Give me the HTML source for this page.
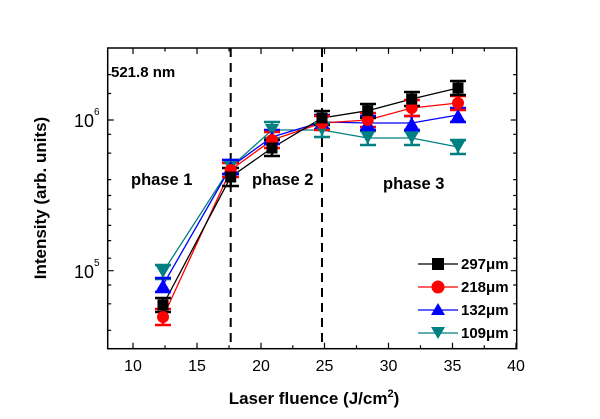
<!DOCTYPE html>
<html><head><meta charset="utf-8"><style>
html,body{margin:0;padding:0;background:#fff;}
svg{display:block;font-family:"Liberation Sans",Arial,sans-serif;}
</style></head><body>
<svg width="600" height="419" viewBox="0 0 600 419" xmlns="http://www.w3.org/2000/svg">
<rect width="600" height="419" fill="#fff"/>
<g stroke="#000" stroke-width="1.5" fill="none">
<rect x="107.7" y="48" width="409" height="300.7"/>
</g>
<g stroke="#000" stroke-width="1.2">
<path d="M133 348.7v-6M197 348.7v-6M261 348.7v-6M324.5 348.7v-6M388.5 348.7v-6M452.5 348.7v-6M516 348.7v-6
M133 48v6M197 48v6M261 48v6M324.5 48v6M388.5 48v6M452.5 48v6"/>
<path d="M165 348.7v-3.5M229 348.7v-3.5M292.8 348.7v-3.5M356.5 348.7v-3.5M420.5 348.7v-3.5M484.3 348.7v-3.5
M165 48v3.5M229 48v3.5M292.8 48v3.5M356.5 48v3.5M420.5 48v3.5M484.3 48v3.5"/>
<path d="M107.7 120h6M107.7 270.7h6M516.7 120h-6M516.7 270.7h-6"/>
<path d="M107.7 330.3h3.5M107.7 303.8h3.5M107.7 285h3.5M107.7 74.6h3.5M107.7 93.5h3.5
M107.7 179.6h3.5M107.7 153.1h3.5M107.7 134.3h3.5M107.7 225.4h3.5M107.7 195.5h3.5M107.7 209.1h3.5M107.7 240.6h3.5M107.7 258.2h3.5
M516.7 330.3h-3.5M516.7 303.8h-3.5M516.7 285h-3.5M516.7 74.6h-3.5M516.7 93.5h-3.5
M516.7 179.6h-3.5M516.7 153.1h-3.5M516.7 134.3h-3.5M516.7 225.4h-3.5M516.7 195.5h-3.5M516.7 209.1h-3.5M516.7 240.6h-3.5M516.7 258.2h-3.5"/>
</g>
<g stroke="#000" stroke-width="2" stroke-dasharray="9,6">
<line x1="230.7" y1="48" x2="230.7" y2="348.7"/>
<line x1="322" y1="48" x2="322" y2="348.7"/>
</g>
<g font-size="16" fill="#000">
<text x="133" y="371" text-anchor="middle">10</text>
<text x="197" y="371" text-anchor="middle">15</text>
<text x="261" y="371" text-anchor="middle">20</text>
<text x="324.5" y="371" text-anchor="middle">25</text>
<text x="388.5" y="371" text-anchor="middle">30</text>
<text x="452.5" y="371" text-anchor="middle">35</text>
<text x="516" y="371" text-anchor="middle">40</text>
<text x="74" y="127" font-size="18">10</text><text x="94" y="115" font-size="10">6</text>
<text x="74" y="278" font-size="18">10</text><text x="94" y="266" font-size="10">5</text>
</g>
<g font-weight="bold" fill="#000">
<text x="111" y="77" font-size="15">521.8 nm</text>
<text x="131" y="185" font-size="16.5">phase 1</text>
<text x="252" y="185" font-size="16.5">phase 2</text>
<text x="383" y="189" font-size="16.5">phase 3</text>
<text x="314" y="404" font-size="17" text-anchor="middle">Laser fluence (J/cm<tspan dy="-7" font-size="11">2</tspan><tspan dy="7">)</tspan></text>
<text transform="translate(46,198) rotate(-90)" font-size="17" text-anchor="middle">Intensity (arb. units)</text>
</g>
<g stroke-width="1.3" fill="none">
<polyline stroke="#008080" points="163,272 230.7,167 272,130 322,130 367.7,138 411.7,138 458,147"/>
<polyline stroke="#0000ff" points="163,285 230.7,167 272,137 322,122 367.7,123 411.7,123 458,115"/>
<polyline stroke="#ff0000" points="163,317 230.7,170 272,140 322,123 367.7,120 411.7,108 458,103"/>
<polyline stroke="#000" points="163,305 230.7,177 272,148 322,118 367.7,110.7 411.7,99 458,88"/>
</g>
<g stroke-width="2.5">
<g stroke="#008080"><path d="M163 265v14M155 265h16M155 279h16M230.7 160v14M222 160h17M222 174h17M272 122v16M264 122h16M264 138h16M322 123v14M314 123h16M314 137h16M367.7 131v14M360 131h16M360 145h16M411.7 131v14M404 131h16M404 145h16M458 140v14M450 140h16M450 154h16"/></g>
<g stroke="#0000ff"><path d="M163 278v14M155 278h16M155 292h16M230.7 160v14M222 160h17M222 174h17M272 130v14M264 130h16M264 144h16M322 115v14M314 115h16M314 129h16M367.7 116v14M360 116h16M360 130h16M411.7 116v14M404 116h16M404 130h16M458 108v14M450 108h16M450 122h16"/></g>
<g stroke="#ff0000"><path d="M163 309v16M155 309h16M155 325h16M230.7 163v14M222 163h17M222 177h17M272 132v16M264 132h16M264 148h16M322 116v14M314 116h16M314 130h16M367.7 113v14M360 113h16M360 127h16M411.7 100v16M404 100h16M404 116h16M458 96v14M450 96h16M450 110h16"/></g>
<g stroke="#000"><path d="M163 298v14M155 298h16M155 312h16M230.7 168v18M222 168h17M222 186h17M272 140v16M264 140h16M264 156h16M322 111v14M314 111h16M314 125h16M367.7 104v14M360 104h16M360 118h16M411.7 92v14M404 92h16M404 106h16M458 81v14M450 81h16M450 95h16"/></g>
</g>
<g fill="#008080"><path d="M156 266h14l-7 12zM223.7 161h14l-7 12zM265 124h14l-7 12zM315 124h14l-7 12zM360.7 132h14l-7 12zM404.7 132h14l-7 12zM451 141h14l-7 12z"/></g>
<g fill="#0000ff"><path d="M156 291h14l-7 -12zM223.7 173h14l-7 -12zM265 143h14l-7 -12zM315 128h14l-7 -12zM360.7 129h14l-7 -12zM404.7 129h14l-7 -12zM451 121h14l-7 -12z"/></g>
<g fill="#ff0000"><circle cx="163" cy="317" r="6"/><circle cx="230.7" cy="170" r="6"/><circle cx="272" cy="140" r="6"/><circle cx="322" cy="123" r="6"/><circle cx="367.7" cy="120" r="6"/><circle cx="411.7" cy="108" r="6"/><circle cx="458" cy="103" r="6"/></g>
<g fill="#000"><rect x="157.5" y="299.5" width="11" height="11"/><rect x="225.2" y="171.5" width="11" height="11"/><rect x="266.5" y="142.5" width="11" height="11"/><rect x="316.5" y="112.5" width="11" height="11"/><rect x="362.2" y="105.2" width="11" height="11"/><rect x="406.2" y="93.5" width="11" height="11"/><rect x="452.5" y="82.5" width="11" height="11"/></g>
<g stroke-width="1.3">
<line x1="418" y1="264" x2="458" y2="264" stroke="#000"/>
<line x1="418" y1="287" x2="458" y2="287" stroke="#ff0000"/>
<line x1="418" y1="310" x2="458" y2="310" stroke="#0000ff"/>
<line x1="418" y1="333" x2="458" y2="333" stroke="#008080"/>
</g>
<rect x="432" y="258" width="12" height="12" fill="#000"/>
<circle cx="438" cy="287" r="6.5" fill="#ff0000"/>
<path d="M431 315h14l-7 -12z" fill="#0000ff"/>
<path d="M431 327h14l-7 12z" fill="#008080"/>
<g font-size="15" font-weight="bold" fill="#000">
<text x="461" y="269">297μm</text>
<text x="461" y="292">218μm</text>
<text x="461" y="315">132μm</text>
<text x="461" y="338">109μm</text>
</g>
</svg>
</body></html>
